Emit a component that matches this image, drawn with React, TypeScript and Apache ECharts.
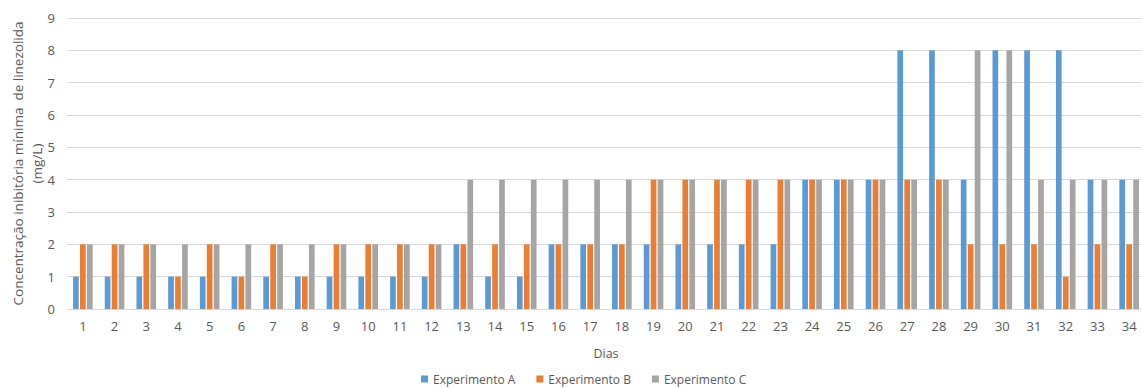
import React, { useEffect, useRef } from "react";
import * as echarts from "echarts";

// Dias de ensaio (eixo das categorias)
const days: string[] = Array.from({ length: 34 }, (_, i) => String(i + 1));

// CIM de linezolida (mg/L) por experimento
const experimentA: number[] = [1, 1, 1, 1, 1, 1, 1, 1, 1, 1, 1, 1, 2, 1, 1, 2, 2, 2, 2, 2, 2, 2, 2, 4, 4, 4, 8, 8, 4, 8, 8, 8, 4, 4];
const experimentB: number[] = [2, 2, 2, 1, 2, 1, 2, 1, 2, 2, 2, 2, 2, 2, 2, 2, 2, 2, 4, 4, 4, 4, 4, 4, 4, 4, 4, 4, 2, 2, 2, 1, 2, 2];
const experimentC: number[] = [2, 2, 2, 2, 2, 2, 2, 2, 2, 2, 2, 2, 4, 4, 4, 4, 4, 4, 4, 4, 4, 4, 4, 4, 4, 4, 4, 4, 8, 8, 4, 4, 4, 4];

const seriesNames = ["Experimento A", "Experimento B", "Experimento C"];
const colors = ["#5B9BD5", "#ED7D31", "#A5A5A5"];

const FONT = "'Open Sans', 'Noto Sans', sans-serif";
const TEXT_COLOR = "#595959";

export default function App() {
  const ref = useRef<HTMLDivElement>(null);

  useEffect(() => {
    if (!ref.current) return;
    const chart = echarts.init(ref.current, undefined, { renderer: "svg" });
    const data = [experimentA, experimentB, experimentC];
    chart.setOption({
      animation: false,
      textStyle: { fontFamily: FONT, color: TEXT_COLOR },
      grid: {
        left: 67,
        top: 18,
        width: 1078,
        height: 291,
        containLabel: false,
        outerBoundsMode: "none",
      },
      legend: {
        top: 372,
        left: 421,
        padding: 0,
        itemWidth: 7,
        itemHeight: 7,
        itemGap: 21,
        icon: "rect",
        textStyle: { fontFamily: FONT, color: TEXT_COLOR, fontSize: 12, lineHeight: 14 },
        data: seriesNames,
      },
      xAxis: {
        type: "category",
        data: days,
        name: "Dias",
        nameLocation: "middle",
        nameGap: 38,
        nameMoveOverlap: false,
        nameTextStyle: { fontFamily: FONT, color: TEXT_COLOR, fontSize: 12.5 },
        axisLine: { lineStyle: { color: "#D9D9D9" } },
        axisTick: { show: false },
        axisLabel: { color: TEXT_COLOR, fontSize: 13, margin: 10, fontFamily: FONT },
      },
      yAxis: {
        type: "value",
        min: 0,
        max: 9,
        interval: 1,
        name: "Concentração inibitória mínima  de linezolida\n(mg/L)",
        nameLocation: "middle",
        nameRotate: 90,
        nameGap: 21,
        nameMoveOverlap: false,
        nameTextStyle: { fontFamily: FONT, color: TEXT_COLOR, fontSize: 13.5, lineHeight: 19 },
        axisLine: { show: false },
        axisTick: { show: false },
        axisLabel: { color: TEXT_COLOR, fontSize: 13, margin: 12, fontFamily: FONT },
        splitLine: { lineStyle: { color: "#D9D9D9", width: 1 } },
      },
      series: data.map((values, i) => ({
        name: seriesNames[i],
        type: "bar",
        data: values,
        barWidth: 5.7,
        barGap: "22%",
        itemStyle: { color: colors[i] },
      })),
    });
    return () => chart.dispose();
  }, []);

  return (
    <div
      ref={ref}
      style={{ position: "fixed", left: 0, top: 0, width: 1141, height: 388, background: "#fff" }}
    />
  );
}
